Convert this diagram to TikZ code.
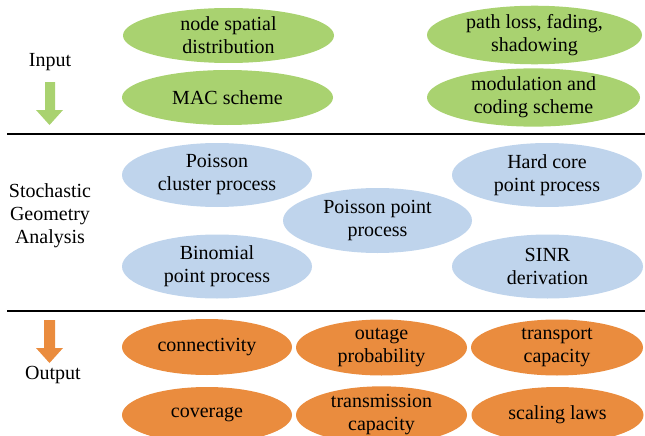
\documentclass[tikz,border=0pt]{standalone}
\usepackage{fontspec}
\setmainfont{Liberation Serif}
\usetikzlibrary{shapes.geometric}
\definecolor{ingreen}{RGB}{169,210,112}
\definecolor{sgblue}{RGB}{191,212,236}
\definecolor{outorange}{RGB}{234,140,62}
\begin{document}
\begin{tikzpicture}[x=1pt,y=-1pt,
  every node/.style={font=\fontsize{20}{23}\selectfont, align=center, inner sep=0pt},
  oval/.style={ellipse, draw=none, minimum width=#1},
  inbox/.style={oval=211, minimum height=55, fill=ingreen},
  sgbox/.style={oval=190, minimum height=64, fill=sgblue},
  outbox/.style={oval=171, minimum height=56, fill=outorange},
  rule/.style={line width=1.5pt, black}]
\useasboundingbox (0,0) rectangle (645,436);
\clip (0,0) rectangle (645,436);

% input row
\node[inbox] (nsd) at (228.5,35.5) {node spatial\\distribution};
\node[inbox] (mac) at (227.5,97.5) {MAC scheme};
\node[inbox, minimum width=215] (plf) at (534.5,35) {path loss, fading,\\shadowing};
\node[inbox, minimum width=213] (mcs) at (533.5,97.5) {modulation and\\coding scheme};
\node (inlbl) at (50,62) {Input};
\fill[ingreen] (45,82) -- (55,82) -- (55,110) -- (63,110) -- (49.5,125)
  -- (36,110) -- (45,110) -- cycle;

\draw[rule] (7,134) -- (645,134);

% analysis tools
\node[sgbox] (pcp) at (217,175) {Poisson\\cluster process};
\node[sgbox] (bpp) at (217,266.5) {Binomial\\point process};
\node[sgbox, minimum width=189, minimum height=65] (ppp) at (377.5,220.5) {Poisson point\\process};
\node[sgbox] (hcp) at (547,175) {Hard core\\point process};
\node[sgbox, minimum width=191] (sinr) at (547.5,266.5) {SINR\\derivation};
\node (sglbl) at (50,216) {Stochastic\\Geometry\\Analysis};

\draw[rule] (7,311) -- (645,311);

% output row
\node[outbox, minimum width=170] (conn) at (207,347) {connectivity};
\node[outbox] (outp) at (381.5,347.5) {outage\\probability};
\node[outbox, minimum width=172] (tcap) at (557,347.5) {transport\\capacity};
\node[outbox, minimum width=170] (cov) at (207,415) {coverage};
\node[outbox] (trcap) at (381.5,415) {transmission\\capacity};
\node[outbox, minimum width=172] (scl) at (557.5,415) {scaling laws};
\node (outlbl) at (53,375) {Output};
\fill[outorange] (44,320) -- (55,320) -- (55,348) -- (63,348) -- (49.5,363)
  -- (36,348) -- (44,348) -- cycle;
\end{tikzpicture}
\end{document}
